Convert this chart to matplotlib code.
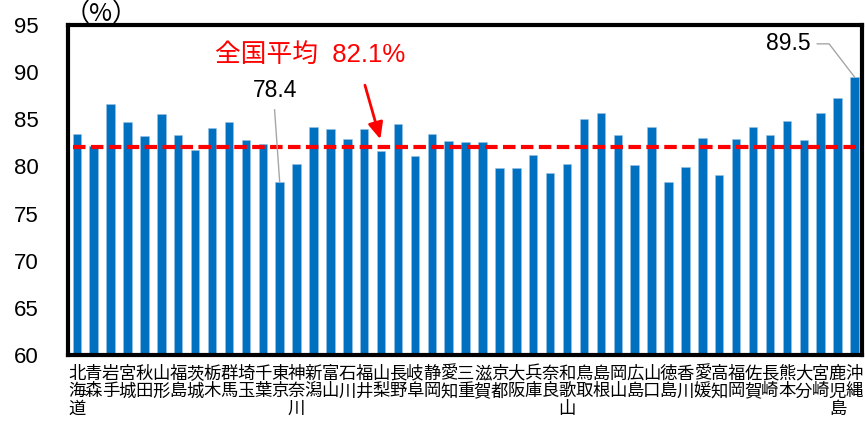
import matplotlib
matplotlib.use("Agg")
import matplotlib.pyplot as plt

plt.rcParams['font.family'] = ['Liberation Sans', 'Noto Sans CJK JP']

# --- data ---
prefectures = [
    "北海道", "青森", "岩手", "宮城", "秋田", "山形", "福島", "茨城", "栃木", "群馬",
    "埼玉", "千葉", "東京", "神奈川", "新潟", "富山", "石川", "福井", "山梨", "長野",
    "岐阜", "静岡", "愛知", "三重", "滋賀", "京都", "大阪", "兵庫", "奈良", "和歌山",
    "鳥取", "島根", "岡山", "広島", "山口", "徳島", "香川", "愛媛", "高知", "福岡",
    "佐賀", "長崎", "熊本", "大分", "宮崎", "鹿児島", "沖縄",
]
rates = [
    83.4, 82.2, 86.6, 84.7, 83.2, 85.6, 83.3, 81.7, 84.1, 84.7,
    82.8, 82.4, 78.4, 80.3, 84.2, 84.0, 82.9, 84.0, 81.6, 84.5,
    81.1, 83.4, 82.7, 82.6, 82.6, 79.8, 79.8, 81.2, 79.3, 80.3,
    85.0, 85.7, 83.3, 80.2, 84.2, 78.4, 79.9, 83.0, 79.1, 82.9,
    84.2, 83.3, 84.8, 82.8, 85.7, 87.3, 89.5,
]
national_avg = 82.1
y_ticks = [60, 65, 70, 75, 80, 85, 90, 95]

fig = plt.figure(figsize=(8.65, 4.26), dpi=100)
ax = fig.add_axes([0.0786, 0.1667, 0.918, 0.7746])

x = list(range(len(prefectures)))
ax.bar(x, rates, width=0.5, color="#0070C0", edgecolor="#9DC3E6", linewidth=0.4, zorder=2)

# national average line
ax.hlines(national_avg, -0.2, len(x) - 0.8, colors="#FF0000", linewidth=3,
          linestyles=(0, (3, 1.3)), zorder=3)

ax.set_ylim(60, 95)
ax.set_xlim(-0.52, len(x) - 0.55)
ax.set_yticks(y_ticks)
ax.set_yticklabels([str(v) for v in y_ticks], fontsize=16)
ax.tick_params(axis="y", length=0, pad=21)

ax.set_xticks(x)
ax.set_xticklabels(["\n".join(p) for p in prefectures], fontsize=12.5,
                   family=['Noto Sans CJK JP'], linespacing=0.98, va="top")
ax.tick_params(axis="x", length=0, pad=7)

for s in ax.spines.values():
    s.set_linewidth(3)
    s.set_color("black")

# unit label
fig.text(0.117, 0.968, "（%）", fontsize=18, ha="center", va="center",
         family=['Noto Sans CJK JP', 'Liberation Sans'])

# average annotation
ax.annotate("", xy=(18.0, national_avg + 0.5), xytext=(17.0, 88.9),
            arrowprops=dict(arrowstyle="-|>,head_length=1.0,head_width=0.45",
                            color="#FF0000", lw=2), zorder=4)
ax.text(13.8, 91.8, f"全国平均  {national_avg}%", color="#FF0000", fontsize=18.5,
        ha="center", va="center")

# min / max labels
i_min = 12
ax.text(i_min - 0.3, 88.1, f"{rates[i_min]}", fontsize=16.5, ha="center", va="center")
ax.plot([i_min - 0.3, i_min], [86.0, rates[i_min]], color="#A6A6A6", lw=1, zorder=3)

i_max = len(rates) - 1
ax.text(i_max - 3.9, 93.0, f"{rates[i_max]}", fontsize=16.5, ha="center", va="center")
ax.plot([i_max - 2.2, i_max - 1.5, i_max], [93.0, 93.0, rates[i_max]],
        color="#A6A6A6", lw=1, zorder=3)

fig.savefig("out.png", dpi=100)
